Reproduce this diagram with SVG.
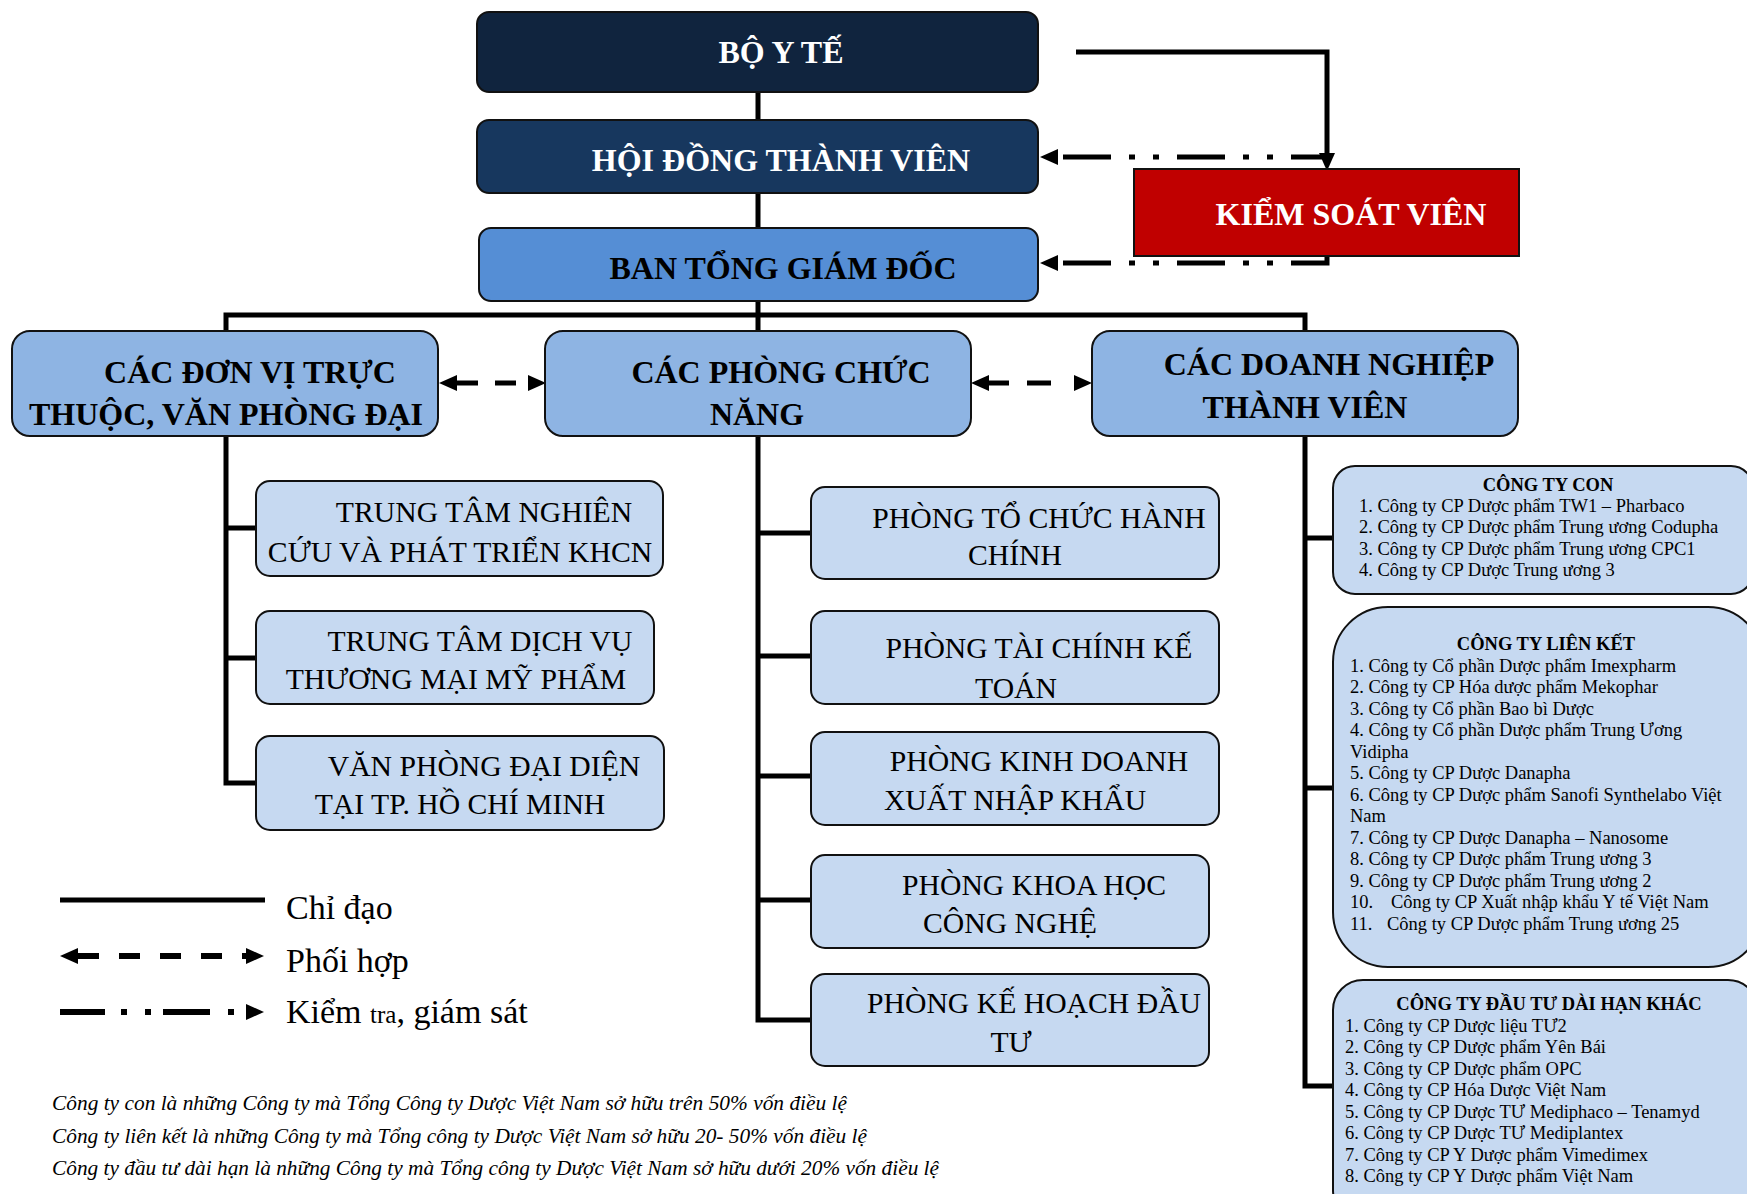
<svg xmlns="http://www.w3.org/2000/svg" width="1747" height="1194" viewBox="0 0 1747 1194">
<defs>
<marker id="ah" markerUnits="userSpaceOnUse" viewBox="0 0 18 16" refX="0" refY="8" markerWidth="18" markerHeight="16" orient="auto-start-reverse"><path d="M0,0 L18,8 L0,16 z" fill="#000"/></marker>
<style>
text{font-family:"Liberation Serif","Times New Roman",serif;}
.b{font-weight:bold;font-size:32px;text-anchor:middle;}
.w{fill:#fff;}
.k{fill:#000;}
.r{font-size:29.7px;text-anchor:middle;fill:#000;}
.it{font-size:18.5px;fill:#000;}
.ti{font-size:18.5px;font-weight:bold;text-anchor:middle;fill:#000;}
.lg{font-size:34px;fill:#000;}
.ft{font-size:22px;font-style:italic;fill:#000;}
.box{stroke:#111;stroke-width:2;}
.l2{fill:#8eb4e3;}
.l3{fill:#c6d9f1;}
.ln{fill:none;stroke:#000;stroke-width:5;}
.dd{fill:none;stroke:#000;stroke-width:5;stroke-dasharray:48 18 6 18 6 18;stroke-dashoffset:109;}
.ds{fill:none;stroke:#000;stroke-width:5;}
</style>
</defs>
<rect width="1747" height="1194" fill="#fff"/>
<g id="connectors">
<path class="ln" d="M758 92 V331"/>
<path class="ln" d="M226 331 V315 H1305 V331"/>
<path class="ln" d="M226 436 V783 H256 M226 528 H256 M226 658 H256"/>
<path class="ln" d="M758 436 V1020 H811 M758 533 H811 M758 656 H811 M758 776 H811 M758 900 H811"/>
<path class="ln" d="M1305 436 V1086 H1333 M1305 538 H1333 M1305 788 H1333"/>
<path class="ln" d="M1076 52 H1327 V153" marker-end="url(#ah)"/>
<path class="dd" d="M1058 157 H1327" marker-start="url(#ah)"/>
<path class="dd" d="M1058 263 H1327 V256" marker-start="url(#ah)"/>
<path class="ds" d="M457 383 H528" stroke-dasharray="21 17" marker-start="url(#ah)" marker-end="url(#ah)"/>
<path class="ds" d="M989 383 H1074" stroke-dasharray="20 18 24 30" marker-start="url(#ah)" marker-end="url(#ah)"/>
</g>
<g id="bo-y-te"><rect class="box" x="477" y="12" width="561" height="80" rx="12" fill="#10243e"/><text class="b w" x="781" y="63">BỘ Y TẾ</text></g>
<g id="hdtv"><rect class="box" x="477" y="120" width="561" height="73" rx="12" fill="#17375e"/><text class="b w" x="781" y="171">HỘI ĐỒNG THÀNH VIÊN</text></g>
<g id="ban-tgd"><rect class="box" x="479" y="228" width="559" height="73" rx="12" fill="#558ed5"/><text class="b k" x="783" y="279">BAN TỔNG GIÁM ĐỐC</text></g>
<g id="ksv"><rect class="box" x="1134" y="169" width="385" height="87" fill="#c00000"/><text class="b w" x="1351" y="225">KIỂM SOÁT VIÊN</text></g>
<g id="don-vi"><rect class="box l2" x="12" y="331" width="426" height="105" rx="18"/><text class="b k" x="250" y="383">CÁC ĐƠN VỊ TRỰC</text><text class="b k" x="226" y="425">THUỘC, VĂN PHÒNG ĐẠI</text></g>
<g id="phong-chuc-nang"><rect class="box l2" x="545" y="331" width="426" height="105" rx="18"/><text class="b k" x="781" y="383">CÁC PHÒNG CHỨC</text><text class="b k" x="757" y="425">NĂNG</text></g>
<g id="doanh-nghiep"><rect class="box l2" x="1092" y="331" width="426" height="105" rx="18"/><text class="b k" x="1329" y="375">CÁC DOANH NGHIỆP</text><text class="b k" x="1305" y="418">THÀNH VIÊN</text></g>
<g id="tt-nghien-cuu"><rect class="box l3" x="256" y="481" width="407" height="95" rx="14"/><text class="r" x="484" y="522">TRUNG TÂM NGHIÊN</text><text class="r" x="460" y="562">CỨU VÀ PHÁT TRIỂN KHCN</text></g>
<g id="tt-dich-vu"><rect class="box l3" x="256" y="611" width="398" height="93" rx="14"/><text class="r" x="480" y="651">TRUNG TÂM DỊCH VỤ</text><text class="r" x="456" y="689">THƯƠNG MẠI MỸ PHẨM</text></g>
<g id="vp-dai-dien"><rect class="box l3" x="256" y="736" width="408" height="94" rx="14"/><text class="r" x="484" y="776">VĂN PHÒNG ĐẠI DIỆN</text><text class="r" x="460" y="814">TẠI TP. HỒ CHÍ MINH</text></g>
<g id="p-tchc"><rect class="box l3" x="811" y="487" width="408" height="92" rx="14"/><text class="r" x="1039" y="528">PHÒNG TỔ CHỨC HÀNH</text><text class="r" x="1015" y="565">CHÍNH</text></g>
<g id="p-tckt"><rect class="box l3" x="811" y="611" width="408" height="93" rx="14"/><text class="r" x="1039" y="658">PHÒNG TÀI CHÍNH KẾ</text><text class="r" x="1016" y="698">TOÁN</text></g>
<g id="p-kd"><rect class="box l3" x="811" y="732" width="408" height="93" rx="14"/><text class="r" x="1039" y="771">PHÒNG KINH DOANH</text><text class="r" x="1015" y="810">XUẤT NHẬP KHẨU</text></g>
<g id="p-khcn"><rect class="box l3" x="811" y="855" width="398" height="93" rx="14"/><text class="r" x="1034" y="895">PHÒNG KHOA HỌC</text><text class="r" x="1010" y="933">CÔNG NGHỆ</text></g>
<g id="p-khdt"><rect class="box l3" x="811" y="974" width="398" height="92" rx="14"/><text class="r" x="1034" y="1013">PHÒNG KẾ HOẠCH ĐẦU</text><text class="r" x="1011" y="1052">TƯ</text></g>
<g id="cong-ty-con"><rect class="box l3" x="1333" y="466" width="420" height="128" rx="22"/>
<text class="ti" x="1548" y="490.5">CÔNG TY CON</text>
<text class="it" x="1359" y="511.5">1. Công ty CP Dược phẩm TW1 – Pharbaco</text>
<text class="it" x="1359" y="533">2. Công ty CP Dược phẩm Trung ương Codupha</text>
<text class="it" x="1359" y="554.5">3. Công ty CP Dược phẩm Trung ương CPC1</text>
<text class="it" x="1359" y="576">4. Công ty CP Dược Trung ương 3</text>
</g>
<g id="cong-ty-lien-ket"><rect class="box l3" x="1333" y="607" width="430" height="360" rx="55"/>
<text class="ti" x="1546" y="650">CÔNG TY LIÊN KẾT</text>
<text class="it" x="1350" y="671.5">1. Công ty Cổ phần Dược phẩm Imexpharm</text>
<text class="it" x="1350" y="693">2. Công ty CP Hóa dược phẩm Mekophar</text>
<text class="it" x="1350" y="714.5">3. Công ty Cổ phần Bao bì Dược</text>
<text class="it" x="1350" y="736">4. Công ty Cổ phần Dược phẩm Trung Ương</text>
<text class="it" x="1350" y="757.5">Vidipha</text>
<text class="it" x="1350" y="779">5. Công ty CP Dược Danapha</text>
<text class="it" x="1350" y="800.5">6. Công ty CP Dược phẩm Sanofi Synthelabo Việt</text>
<text class="it" x="1350" y="822">Nam</text>
<text class="it" x="1350" y="843.5">7. Công ty CP Dược Danapha – Nanosome</text>
<text class="it" x="1350" y="865">8. Công ty CP Dược phẩm Trung ương 3</text>
<text class="it" x="1350" y="886.5">9. Công ty CP Dược phẩm Trung ương 2</text>
<text class="it" x="1350" y="908">10.<tspan x="1391">Công ty CP Xuất nhập khẩu Y tế Việt Nam</tspan></text>
<text class="it" x="1350" y="929.5">11.<tspan x="1387">Công ty CP Dược phẩm Trung ương 25</tspan></text>
</g>
<g id="cong-ty-dau-tu"><rect class="box l3" x="1333" y="980" width="425" height="240" rx="30"/>
<text class="ti" x="1549" y="1010">CÔNG TY ĐẦU TƯ DÀI HẠN KHÁC</text>
<text class="it" x="1345" y="1031.5">1. Công ty CP Dược liệu TƯ2</text>
<text class="it" x="1345" y="1053">2. Công ty CP Dược phẩm Yên Bái</text>
<text class="it" x="1345" y="1074.5">3. Công ty CP Dược phẩm OPC</text>
<text class="it" x="1345" y="1096">4. Công ty CP Hóa Dược Việt Nam</text>
<text class="it" x="1345" y="1117.5">5. Công ty CP Dược TƯ Mediphaco – Tenamyd</text>
<text class="it" x="1345" y="1139">6. Công ty CP Dược TƯ Mediplantex</text>
<text class="it" x="1345" y="1160.5">7. Công ty CP Y Dược phẩm Vimedimex</text>
<text class="it" x="1345" y="1182">8. Công ty CP Y Dược phẩm Việt Nam</text>
</g>
<g id="legend">
<path d="M60 900 H265" stroke="#000" stroke-width="5" fill="none"/>
<path d="M78 956 H246" stroke="#000" stroke-width="6" fill="none" stroke-dasharray="21 20" marker-start="url(#ah)" marker-end="url(#ah)"/>
<path d="M60 1012 H246" stroke="#000" stroke-width="6" fill="none" stroke-dasharray="45 16 6 18 6 12 47 18 6 100" marker-end="url(#ah)"/>
<text class="lg" x="286" y="919">Chỉ đạo</text>
<text class="lg" x="286" y="972">Phối hợp</text>
<text class="lg" x="286" y="1023">Kiểm <tspan font-size="25">tra</tspan>, giám sát</text>
</g>
<g id="notes">
<text class="ft" x="52" y="1110" textLength="795" lengthAdjust="spacingAndGlyphs">Công ty con là những Công ty mà Tổng Công ty Dược Việt Nam sở hữu trên 50% vốn điều lệ</text>
<text class="ft" x="52" y="1143" textLength="815" lengthAdjust="spacingAndGlyphs">Công ty liên kết là những Công ty mà Tổng công ty Dược Việt Nam sở hữu 20- 50% vốn điều lệ</text>
<text class="ft" x="52" y="1175" textLength="887" lengthAdjust="spacingAndGlyphs">Công ty đầu tư dài hạn là những Công ty mà Tổng công ty Dược Việt Nam sở hữu dưới 20% vốn điều lệ</text>
</g>
</svg>
